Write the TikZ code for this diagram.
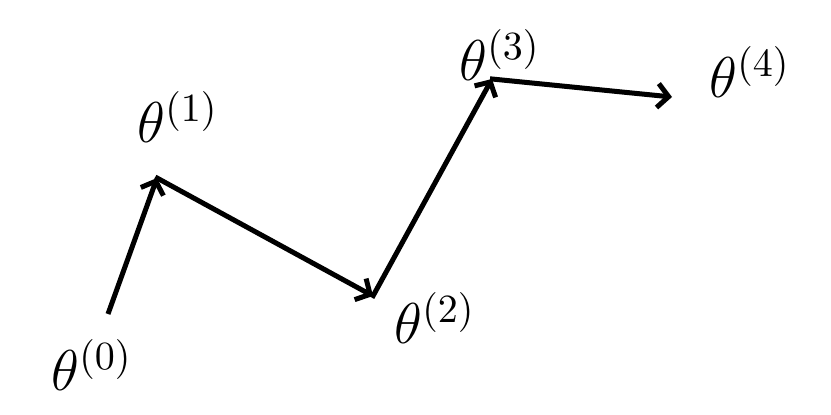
\documentclass[tikz,border=0pt]{standalone}
\usetikzlibrary{arrows.meta}
\begin{document}
\begin{tikzpicture}[x=1pt,y=-1pt,
  lbl/.style={inner sep=0pt,font=\Large,scale=4.0},
  step arrow/.style={line width=5pt,-{Straight Barb[length=11pt,width=24pt,line width=5pt]}}]
\useasboundingbox (0,0) rectangle (831,415);
\node[lbl] (t0) at (92,365) {$\theta^{\scriptstyle(0)}$};
\node[lbl] (t1) at (178,117) {$\theta^{\scriptstyle(1)}$};
\node[lbl] (t2) at (435,318) {$\theta^{\scriptstyle(2)}$};
\node[lbl] (t3) at (500,55) {$\theta^{\scriptstyle(3)}$};
\node[lbl] (t4) at (750,72) {$\theta^{\scriptstyle(4)}$};
\coordinate (p0) at (108,314);
\coordinate (p1) at (157,178);
\coordinate (p2) at (373,296);
\coordinate (p3) at (492,79);
\coordinate (p4) at (672,97);
\draw[step arrow] (p0) -- (p1);
\draw[step arrow,shorten <=-2pt] (p1) -- (p2);
\draw[step arrow,shorten <=-2pt] (p2) -- (p3);
\draw[step arrow,shorten <=-2pt] (p3) -- (p4);
\end{tikzpicture}
\end{document}
